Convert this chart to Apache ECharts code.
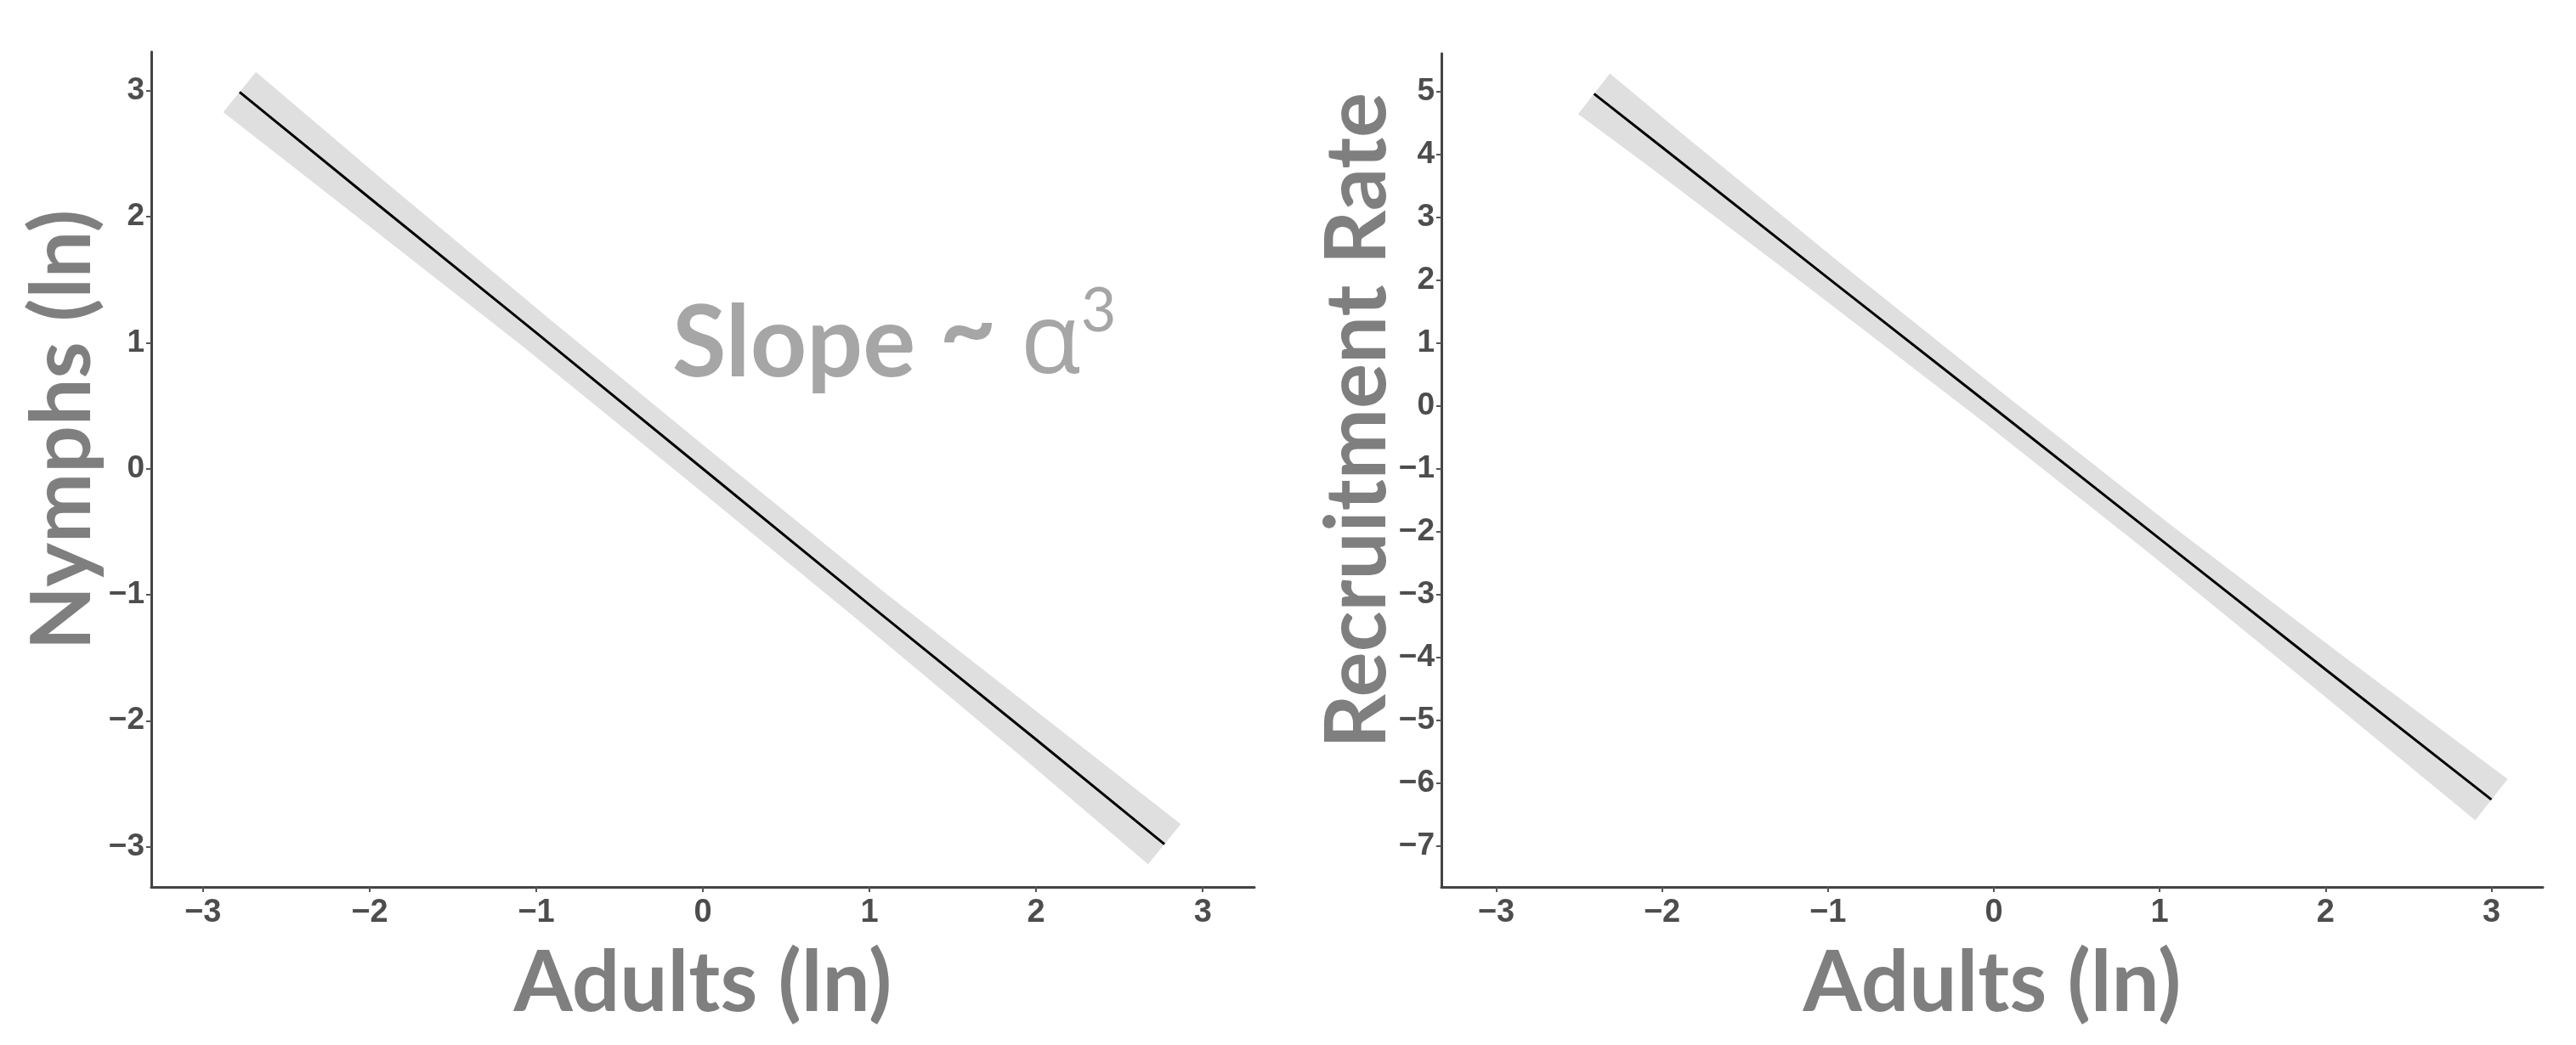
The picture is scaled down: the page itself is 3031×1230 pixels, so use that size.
<!DOCTYPE html>
<html>
<head>
<meta charset="utf-8">
<script src="https://cdn.jsdelivr.net/npm/echarts@6/dist/echarts.min.js"></script>
<style>
html,body{margin:0;padding:0;background:#fff;}
#chart{width:3031px;height:1230px;}
</style>
</head>
<body>
<div id="chart"></div>
<script>
// ---- data ----
var leftX  = [-2.78, -2, -1, 0, 1, 2, 2.77];
var leftY  = [2.99, 2.15, 1.08, 0.00, -1.08, -2.15, -2.98];
var leftCI = [0.265, 0.23, 0.195, 0.19, 0.195, 0.23, 0.265];

var rightX  = [-2.41, -2, -1, 0, 1, 2, 3.0];
var rightY  = [4.97, 4.12, 2.04, -0.03, -2.11, -4.19, -6.26];
var rightCI = [0.52, 0.47, 0.39, 0.35, 0.36, 0.43, 0.53];

var xTicks      = [-3, -2, -1, 0, 1, 2, 3];
var leftYTicks  = [-3, -2, -1, 0, 1, 2, 3];
var rightYTicks = [-7, -6, -5, -4, -3, -2, -1, 0, 1, 2, 3, 4, 5];

var xTitle      = 'Adults (ln)';
var leftYTitle  = 'Nymphs (ln)';
var rightYTitle = 'Recruitment Rate';

// ---- helpers ----
var TITLE_FONT = 'Lato, "Open Sans", sans-serif';
var TITLE_COLOR = '#7f7f7f';
var NOTE_COLOR = '#a6a6a6';
function fitSize(text, weight, family, target) {
  var c = document.createElement('canvas').getContext('2d');
  c.font = weight + ' 100px ' + family;
  return 100 * target / c.measureText(text).width;
}
function fmt(v) { return String(v).replace('-', '\u2212'); }

function xAxisCfg(gi, min, max) {
  return {
    type: 'value', gridIndex: gi, min: min, max: max,
    splitLine: {show: false},
    axisLine: {show: true, onZero: false, lineStyle: {color: '#444', width: 3}},
    axisTick: {show: true, length: 6, customValues: xTicks, lineStyle: {color: '#555', width: 2}},
    axisLabel: {customValues: xTicks, formatter: fmt, margin: 12,
      fontFamily: '"Liberation Sans", Arial, sans-serif', fontWeight: 'bold', fontSize: 38, color: '#4d4d4d'}
  };
}
function yAxisCfg(gi, min, max, ticks) {
  return {
    type: 'value', gridIndex: gi, min: min, max: max,
    splitLine: {show: false},
    axisLine: {show: true, onZero: false, lineStyle: {color: '#444', width: 3}},
    axisTick: {show: true, length: 6, customValues: ticks, lineStyle: {color: '#555', width: 2}},
    axisLabel: {customValues: ticks, formatter: fmt, margin: 8,
      fontFamily: '"Liberation Sans", Arial, sans-serif', fontWeight: 'bold', fontSize: 37, color: '#4d4d4d'}
  };
}
function bandSeries(xs, ys, ci, idx) {
  return {
    type: 'custom', xAxisIndex: idx, yAxisIndex: idx, z: 1, clip: false, silent: true,
    data: [[xs[0], ys[0]]],
    renderItem: function (params, api) {
      var c = xs.map(function (x, i) { return api.coord([x, ys[i]]); });
      var h = xs.map(function (x, i) { return Math.abs(api.coord([x, ys[i] + ci[i]])[1] - c[i][1]); });
      var up = [], lo = [];
      for (var i = 0; i < c.length; i++) {
        var a = c[Math.max(0, i - 1)], b = c[Math.min(c.length - 1, i + 1)];
        var tx = b[0] - a[0], ty = b[1] - a[1], L = Math.sqrt(tx * tx + ty * ty);
        tx /= L; ty /= L;
        var nx = ty, ny = -tx, d = h[i] * Math.abs(tx);
        up.push([c[i][0] + nx * d, c[i][1] + ny * d]);
        lo.push([c[i][0] - nx * d, c[i][1] - ny * d]);
      }
      return {type: 'polygon', shape: {points: up.concat(lo.reverse())}, style: {fill: '#dfdfdf'}};
    }
  };
}
function lineSeries(xs, ys, idx) {
  return {
    type: 'line', xAxisIndex: idx, yAxisIndex: idx, z: 3, silent: true,
    showSymbol: false, symbol: 'none',
    lineStyle: {color: '#000', width: 3},
    data: xs.map(function (x, i) { return [x, ys[i]]; })
  };
}

var sizeAdults = fitSize(xTitle, 'bold', TITLE_FONT, 445);
var sizeNymphs = fitSize(leftYTitle, 'bold', TITLE_FONT, 519);
var sizeRecruit = fitSize(rightYTitle, 'bold', TITLE_FONT, 772);

var chart = echarts.init(document.getElementById('chart'), null, {renderer: 'canvas'});
chart.setOption({
  backgroundColor: '#fff',
  animation: false,
  grid: [
    {left: 178, top: 61, width: 1298, height: 983},
    {left: 1696, top: 63, width: 1296, height: 981}
  ],
  xAxis: [xAxisCfg(0, -3.31, 3.31), xAxisCfg(1, -3.33, 3.31)],
  yAxis: [yAxisCfg(0, -3.32, 3.31, leftYTicks), yAxisCfg(1, -7.65, 5.61, rightYTicks)],
  series: [
    bandSeries(leftX, leftY, leftCI, 0),
    lineSeries(leftX, leftY, 0),
    bandSeries(rightX, rightY, rightCI, 1),
    lineSeries(rightX, rightY, 1)
  ],
  graphic: [
    {type: 'text', x: 827, y: 1158, z: 10,
      style: {text: xTitle, font: 'bold ' + sizeAdults + 'px ' + TITLE_FONT, fill: TITLE_COLOR, align: 'center', verticalAlign: 'middle'}},
    {type: 'text', x: 2344, y: 1158, z: 10,
      style: {text: xTitle, font: 'bold ' + sizeAdults + 'px ' + TITLE_FONT, fill: TITLE_COLOR, align: 'center', verticalAlign: 'middle'}},
    {type: 'text', x: 74, y: 506, rotation: Math.PI / 2, z: 10,
      style: {text: leftYTitle, font: 'bold ' + sizeNymphs + 'px ' + TITLE_FONT, fill: TITLE_COLOR, align: 'center', verticalAlign: 'middle'}},
    {type: 'text', x: 1598, y: 495, rotation: Math.PI / 2, z: 10,
      style: {text: rightYTitle, font: 'bold ' + sizeRecruit + 'px ' + TITLE_FONT, fill: TITLE_COLOR, align: 'center', verticalAlign: 'middle'}},
    {type: 'text', x: 791, y: 406, z: 10,
      style: {
        text: '{b|Slope }{t|~}{g| }{a|\u03B1}{s|3}',
        align: 'left', verticalAlign: 'middle',
        rich: {
          b: {fontFamily: TITLE_FONT, fontWeight: 'bold', fontSize: 116, fill: NOTE_COLOR, color: NOTE_COLOR},
          t: {fontFamily: TITLE_FONT, fontWeight: 'bold', fontSize: 116, fill: NOTE_COLOR, color: NOTE_COLOR, padding: [0, 0, 34, 0]},
          g: {fontFamily: TITLE_FONT, fontWeight: 'bold', fontSize: 116, fill: NOTE_COLOR, color: NOTE_COLOR},
          a: {fontFamily: '"Open Sans", sans-serif', fontWeight: 'normal', fontSize: 116, fill: NOTE_COLOR, color: NOTE_COLOR},
          s: {fontFamily: TITLE_FONT, fontWeight: 'normal', fontSize: 72, fill: NOTE_COLOR, color: NOTE_COLOR, verticalAlign: 'top', padding: [0, 0, 40, 0]}
        }
      }}
  ]
});
</script>
</body>
</html>
